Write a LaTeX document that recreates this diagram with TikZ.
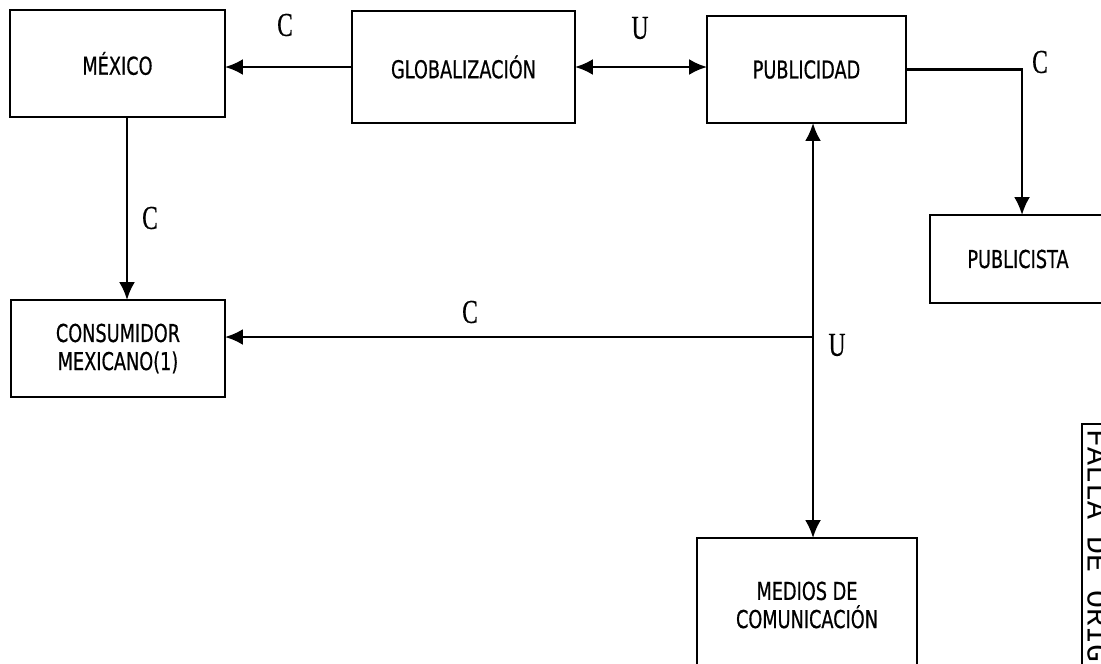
\documentclass[tikz,border=0pt]{standalone}
\usepackage{fontspec}
\usetikzlibrary{arrows.meta}
\newfontfamily\boxfont[FakeStretch=0.72,FakeBold=0.6]{DejaVu Sans}
\newfontfamily\lblfont[FakeStretch=0.7,FakeBold=0.4]{Liberation Serif}
\newfontfamily\stampfont{Liberation Mono}
\tikzset{
    concept/.style={draw, rectangle, outer sep=0pt, line width=1.4pt, align=center,
        font={\boxfont\fontsize{14}{16}\selectfont}},
    rel/.style={inner sep=0pt, font={\lblfont\fontsize{19}{19}\selectfont}},
    link/.style={line width=1.4pt, -{Latex[length=0.36cm,width=0.32cm]}},
    twoway/.style={line width=1.4pt, {Latex[length=0.36cm,width=0.32cm]}-{Latex[length=0.36cm,width=0.32cm]}}
}
\begin{document}
\begin{tikzpicture}[x=0.02cm, y=-0.02cm]
    \useasboundingbox (0,0) rectangle (1101,663);
    \clip (0,0) rectangle (1101,663);
    \node[concept, minimum width=4.3cm, minimum height=2.14cm] (mexico) at (117.5,63.5) {MÉXICO};
    \node[concept, minimum width=4.46cm, minimum height=2.24cm] (glob) at (463.5,67) {GLOBALIZACIÓN};
    \node[concept, minimum width=3.98cm, minimum height=2.14cm] (pub) at (806.5,69.5) {PUBLICIDAD};
    \node[concept, minimum width=3.52cm, minimum height=1.76cm] (publicista) at (1018,259) {PUBLICISTA};
    \node[concept, minimum width=4.28cm, minimum height=1.94cm] (consumidor) at (118,348.5) {CONSUMIDOR\\MEXICANO(1)};
    \node[concept, minimum width=4.4cm, minimum height=2.68cm] (medios) at (807,605) {MEDIOS DE\\COMUNICACIÓN};
    \coordinate (hub) at (813,337);
    \draw[link] (glob.west) -- (glob.west -| mexico.east);
    \draw[twoway] (glob.east) -- (glob.east -| pub.west);
    \draw[link] (pub.east) -| ([xshift=0.08cm]publicista.north);
    \draw[link] ([xshift=0.19cm]mexico.south) -- ([xshift=0.19cm]mexico.south |- consumidor.north);
    \draw[twoway] (pub.south -| hub) -- (medios.north -| hub);
    \draw[link] (hub) -- (hub -| consumidor.east);
    \node[rel] (relGlobMex) at (285,25) {C};
    \node[rel] (relGlobPub) at (640,28) {U};
    \node[rel] (relPubPcista) at (1040,62) {C};
    \node[rel] (relMexCons) at (150,218) {C};
    \node[rel] (relHubCons) at (470,312) {C};
    \node[rel] (relPubMedios) at (837,345) {U};
    \node[draw, line width=1.2pt, rotate=-90, anchor=south west, inner sep=3pt,
        font={\stampfont\fontsize{17}{17}\selectfont}] (stamp) at (1081,423) {FALLA DE ORIGEN};
\end{tikzpicture}
\end{document}
